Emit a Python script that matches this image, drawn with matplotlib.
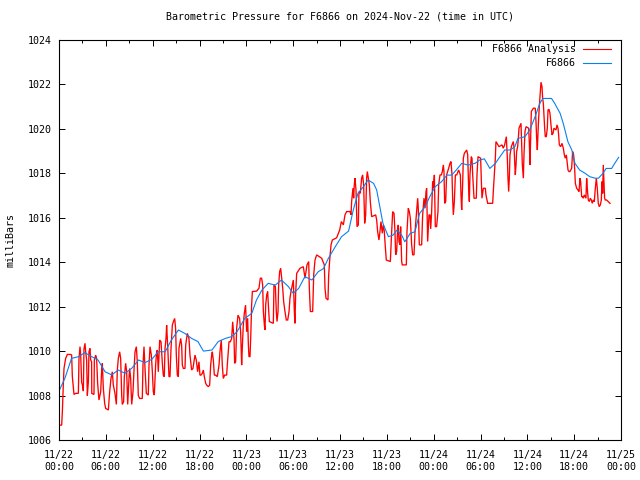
import matplotlib
matplotlib.use("Agg")
import matplotlib.pyplot as plt
from matplotlib.ticker import MultipleLocator, FixedLocator

plt.rcParams['font.family'] = ['DejaVu Sans Mono']
FS = 7.2

title = "Barometric Pressure for F6866 on 2024-Nov-22 (time in UTC)"
ylabel = "milliBars"
series_names = ["F6866 Analysis", "F6866"]

# hours since 2024-11-22 00:00 UTC
x_ticks = [0, 6, 12, 18, 24, 30, 36, 42, 48, 54, 60, 66, 72]
x_tick_labels = ["11/22\n00:00", "11/22\n06:00", "11/22\n12:00", "11/22\n18:00",
                 "11/23\n00:00", "11/23\n06:00", "11/23\n12:00", "11/23\n18:00",
                 "11/24\n00:00", "11/24\n06:00", "11/24\n12:00", "11/24\n18:00",
                 "11/25\n00:00"]

analysis_hours = [
    0.0, 0.34, 0.43, 0.55, 0.64, 0.85, 1.07, 1.5, 1.62, 1.71, 1.92, 2.13, 2.48, 2.56, 2.69, 2.78,
    2.9, 3.0, 3.12, 3.2, 3.33, 3.42, 3.54, 3.63, 3.76, 3.84, 3.97, 4.06, 4.18, 4.2, 4.48, 4.53,
    4.7, 4.82, 4.95, 5.12, 5.34, 5.47, 5.55, 5.68, 5.85, 5.98, 6.32, 6.49, 6.66, 6.83, 6.96, 7.17,
    7.35, 7.47, 7.6, 7.77, 7.9, 8.03, 8.11, 8.28, 8.37, 8.54, 8.67, 8.8, 8.97, 9.05, 9.18, 9.31,
    9.48, 9.61, 9.74, 9.91, 10.03, 10.16, 10.33, 10.67, 10.76, 10.89, 11.02, 11.19, 11.44, 11.53,
    11.66, 11.83, 11.96, 12.08, 12.21, 12.38, 12.51, 12.6, 12.72, 12.9, 13.07, 13.24, 13.36, 13.49,
    13.58, 13.71, 13.79, 13.92, 14.0, 14.09, 14.22, 14.35, 14.52, 14.65, 14.82, 14.94, 15.03, 15.16,
    15.29, 15.37, 15.59, 15.71, 15.8, 15.93, 16.14, 16.23, 16.44, 16.65, 16.78, 16.99, 17.16, 17.42,
    17.59, 17.76, 17.93, 18.06, 18.19, 18.36, 18.49, 18.62, 18.79, 18.92, 19.13, 19.3, 19.43, 19.56,
    19.64, 19.77, 19.9, 20.07, 20.28, 20.5, 20.62, 20.79, 20.92, 21.05, 21.22, 21.48, 21.56, 21.78,
    21.95, 22.12, 22.25, 22.42, 22.5, 22.63, 22.76, 22.93, 23.14, 23.27, 23.4, 23.48, 23.61, 23.74,
    23.9, 24.04, 24.17, 24.26, 24.34, 24.47, 24.56, 24.68, 24.77, 25.32, 25.62, 25.79, 25.96, 26.09,
    26.18, 26.31, 26.39, 26.48, 26.61, 26.73, 26.82, 26.95, 27.46, 27.54, 27.72, 27.84, 27.93, 28.06,
    28.14, 28.27, 28.4, 28.53, 28.66, 28.78, 28.95, 29.12, 29.3, 29.47, 29.59, 29.72, 29.89, 30.02,
    30.15, 30.23, 30.32, 30.45, 30.88, 31.3, 31.52, 31.77, 31.99, 32.07, 32.2, 32.5, 32.63, 32.8,
    33.01, 33.65, 33.99, 34.08, 34.21, 34.46, 34.55, 34.68, 34.85, 35.02, 35.57, 35.96, 36.17, 36.43,
    36.64, 36.85, 37.28, 37.41, 37.49, 37.66, 37.75, 37.83, 37.92, 38.05, 38.18, 38.35, 38.43, 38.6,
    38.77, 38.9, 39.03, 39.16, 39.29, 39.41, 39.5, 39.76, 39.88, 40.06, 40.57, 40.7, 40.82, 40.99,
    41.12, 41.25, 41.42, 41.55, 41.68, 41.76, 41.93, 42.45, 42.62, 42.75, 42.92, 43.04, 43.13, 43.26,
    43.39, 43.47, 43.56, 43.68, 43.77, 43.9, 43.98, 44.5, 44.58, 44.75, 44.88, 45.01, 45.18, 45.31,
    45.48, 45.61, 45.78, 45.95, 46.03, 46.16, 46.46, 46.59, 46.76, 46.89, 47.02, 47.1, 47.23, 47.4,
    47.53, 47.62, 47.74, 47.87, 47.96, 48.09, 48.21, 48.38, 48.55, 48.64, 48.81, 48.98, 49.11, 49.24,
    49.32, 49.41, 49.54, 49.66, 49.92, 50.09, 50.22, 50.35, 50.43, 50.52, 50.65, 50.78, 50.95, 51.2,
    51.42, 51.5, 51.59, 51.71, 51.8, 51.93, 52.23, 52.36, 52.48, 52.57, 52.65, 52.82, 52.91, 53.0,
    53.17, 53.46, 53.55, 53.68, 54.02, 54.11, 54.19, 54.36, 54.62, 54.7, 54.79, 54.92, 55.56, 55.64,
    55.77, 55.9, 55.98, 56.37, 56.75, 56.92, 57.09, 57.31, 57.44, 57.52, 57.61, 57.69, 57.78, 57.95,
    58.2, 58.29, 58.38, 58.46, 58.55, 58.63, 58.76, 58.85, 58.93, 59.19, 59.27, 59.36, 59.49, 59.57,
    59.7, 59.83, 60.17, 60.25, 60.34, 60.42, 60.51, 60.77, 61.02, 61.11, 61.19, 61.28, 61.41, 61.53,
    61.62, 61.75, 61.88, 61.96, 62.05, 62.13, 62.22, 62.3, 62.43, 62.56, 62.65, 62.77, 62.9, 63.03,
    63.16, 63.29, 63.41, 63.67, 63.8, 63.93, 64.01, 64.1, 64.27, 64.44, 64.61, 64.74, 64.87, 65.0,
    65.12, 65.21, 65.34, 65.46, 65.68, 65.8, 65.93, 66.06, 66.15, 66.32, 66.49, 66.62, 66.74, 66.83,
    66.96, 67.09, 67.17, 67.3, 67.51, 67.6, 67.68, 67.81, 67.94, 68.07, 68.2, 68.32, 68.45, 68.58,
    68.71, 68.84, 68.96, 69.09, 69.22, 69.35, 69.48, 69.56, 69.65, 69.73, 69.82, 69.9, 69.99, 70.16,
    70.37, 70.59]

analysis_mb = [
    1006.67, 1006.67, 1007.27, 1008.47, 1009.22, 1009.67, 1009.85, 1009.85, 1009.82, 1008.85, 1008.05, 1008.1, 1008.1, 1009.67, 1010.2, 1009.82,
    1008.6, 1008.47, 1008.2, 1010.1, 1010.35, 1009.97, 1009.6, 1008.0, 1008.62, 1009.97, 1010.12, 1009.6, 1009.52, 1008.1, 1008.05, 1009.6,
    1009.82, 1009.67, 1008.55, 1007.8, 1008.17, 1009.15, 1009.45, 1008.32, 1007.65, 1007.42, 1007.35, 1008.17, 1008.77, 1009.07, 1008.47, 1008.1,
    1007.6, 1009.15, 1009.67, 1009.97, 1009.67, 1008.02, 1007.6, 1007.72, 1008.85, 1009.45, 1009.07, 1007.6, 1008.77, 1009.22, 1008.77, 1007.6,
    1008.17, 1009.15, 1009.97, 1010.2, 1009.52, 1008.0, 1007.87, 1007.87, 1009.37, 1010.2, 1009.22, 1008.1, 1008.02, 1009.37,
    1010.2, 1009.82, 1009.07, 1008.17, 1008.02, 1009.37, 1009.97, 1010.05, 1009.07, 1010.5, 1010.42, 1009.45, 1008.92, 1008.85,
    1010.12, 1010.57, 1011.17, 1010.27, 1009.6, 1008.85, 1008.85, 1010.12, 1011.17, 1011.32, 1011.47, 1011.02, 1009.82, 1008.92,
    1008.85, 1010.12, 1010.57, 1010.27, 1009.37, 1009.22, 1009.22, 1010.27, 1010.8, 1010.57, 1009.82, 1009.15, 1009.22, 1009.82,
    1009.6, 1009.07, 1009.52, 1008.92, 1008.92, 1009.0, 1009.15, 1008.85, 1008.55, 1008.47, 1008.4, 1008.47, 1009.37, 1009.82,
    1009.97, 1009.6, 1008.92, 1008.92, 1008.85, 1009.37, 1009.97, 1010.5, 1009.37, 1008.77, 1008.92, 1008.92, 1009.37, 1010.42,
    1010.42, 1010.57, 1011.32, 1010.57, 1009.45, 1009.52, 1011.02, 1011.62, 1011.47, 1010.87, 1009.37, 1010.12, 1011.17, 1011.7,
    1012.07, 1010.87, 1011.48, 1010.28, 1009.75, 1009.75, 1010.58, 1012.08, 1012.68, 1012.7, 1012.83, 1013.28, 1013.28, 1012.98,
    1011.78, 1011.18, 1010.95, 1012.08, 1012.53, 1012.68, 1012.08, 1011.33, 1011.25, 1012.98, 1012.9, 1011.78, 1011.33, 1011.78,
    1012.98, 1013.58, 1013.73, 1013.28, 1012.83, 1012.23, 1011.78, 1011.4, 1011.4, 1011.78, 1012.38, 1012.68, 1012.98, 1013.2,
    1011.78, 1011.25, 1012.6, 1013.5, 1013.73, 1013.8, 1013.28, 1013.88, 1014.03, 1012.83, 1011.78, 1011.78, 1013.43, 1014.1,
    1014.33, 1014.18, 1013.88, 1012.83, 1012.38, 1012.3, 1013.43, 1014.1, 1014.78, 1015.0, 1015.1, 1015.45, 1015.83, 1015.68,
    1016.13, 1016.28, 1016.28, 1016.13, 1016.73, 1017.33, 1016.88, 1017.48, 1017.78, 1017.25, 1015.6, 1015.68, 1017.18, 1017.1,
    1017.78, 1017.93, 1017.48, 1015.75, 1016.13, 1017.78, 1018.08, 1017.48, 1016.73, 1016.05, 1016.13, 1015.9, 1015.38, 1015.0,
    1015.38, 1015.83, 1015.3, 1015.68, 1015.38, 1014.93, 1014.1, 1014.03, 1015.38, 1016.28, 1016.2, 1015.38, 1014.33, 1014.48,
    1015.53, 1015.68, 1014.93, 1014.78, 1015.6, 1014.03, 1013.88, 1013.88, 1015.38, 1016.43, 1016.28, 1015.98, 1014.78, 1014.33,
    1014.33, 1015.38, 1016.13, 1016.88, 1016.43, 1014.78, 1014.78, 1016.13, 1016.88, 1016.43, 1017.18, 1017.33, 1014.93, 1016.13,
    1016.13, 1015.5, 1016.28, 1017.63, 1017.33, 1017.93, 1015.6, 1015.6, 1016.28, 1017.48, 1017.93, 1017.93, 1018.08, 1018.38,
    1018.08, 1016.65, 1016.73, 1017.93, 1018.23, 1018.45, 1018.53, 1017.93, 1016.88, 1016.13, 1016.73, 1017.93, 1017.93, 1018.15,
    1017.93, 1017.03, 1016.35, 1017.48, 1018.68, 1018.9, 1019.05, 1018.83, 1017.33, 1016.73, 1017.93, 1018.75, 1018.68, 1017.93,
    1016.88, 1016.88, 1017.93, 1018.75, 1018.68, 1017.63, 1016.88, 1017.33, 1017.33, 1017.03, 1016.88, 1016.65, 1016.65, 1017.18,
    1017.93, 1018.68, 1019.43, 1019.2, 1019.28, 1019.13, 1019.28, 1019.65, 1018.68, 1017.78, 1017.18, 1017.78, 1018.83, 1019.2,
    1019.43, 1019.2, 1018.53, 1017.93, 1018.38, 1018.98, 1019.2, 1019.58, 1020.03, 1020.25, 1019.43, 1018.38, 1017.78, 1018.83,
    1019.88, 1020.1, 1020.03, 1019.43, 1018.38, 1019.43, 1020.78, 1020.93, 1020.93, 1020.33, 1019.58, 1019.05, 1020.18, 1021.0,
    1021.45, 1022.1, 1021.9, 1021.38, 1021.15, 1020.63, 1020.03, 1019.65, 1019.65, 1020.03, 1020.85, 1020.88, 1020.7, 1020.18,
    1019.73, 1019.8, 1020.03, 1019.95, 1020.18, 1020.03, 1019.73, 1019.28, 1019.2, 1019.35, 1019.13, 1018.83, 1018.68, 1018.83,
    1018.45, 1018.15, 1018.08, 1018.08, 1018.23, 1018.98, 1018.83, 1018.23, 1017.55, 1017.33, 1017.25, 1017.18, 1017.78, 1017.63,
    1016.95, 1016.95, 1016.88, 1017.03, 1016.88, 1017.78, 1017.33, 1016.8, 1016.73, 1016.88, 1016.8, 1016.65, 1016.8, 1016.73,
    1017.33, 1017.78, 1017.33, 1016.65, 1016.5, 1016.58, 1016.8, 1017.63, 1017.1, 1018.38, 1017.63, 1016.88, 1016.8, 1016.8,
    1016.73, 1016.65]

station_hours = [
    0.0, 0.77, 1.6, 2.5, 3.3, 4.2, 5.0, 5.9, 6.75, 7.6, 8.45, 9.3, 10.2, 11.0, 11.9, 12.7,
    13.6, 14.4, 15.3, 16.1, 17.0, 17.8, 18.5, 19.6, 20.4, 21.3, 22.1, 22.8, 23.8, 24.7, 25.3, 26.0,
    26.8, 27.7, 28.5, 29.4, 30.0, 30.7, 31.5, 32.4, 33.2, 33.9, 34.5, 35.4, 36.2, 37.1, 37.7, 38.3,
    39.0, 39.6, 40.3, 40.7, 41.1, 41.5, 42.2, 42.8, 43.3, 43.9, 44.3, 45.0, 45.6, 46.2, 46.9, 47.5,
    48.2, 49.0, 49.7, 50.3, 50.9, 51.6, 52.4, 53.3, 53.9, 54.5, 55.2, 55.9, 56.5, 57.1, 57.8, 58.4,
    58.8, 59.7, 60.3, 61.0, 61.6, 62.0, 63.1, 63.5, 64.2, 64.6, 65.2, 65.7, 66.1, 66.7, 67.4, 68.0,
    68.7, 69.1, 69.7, 70.1, 70.8, 71.2, 71.7]

station_mb = [
    1008.2, 1008.79, 1009.67, 1009.75, 1009.93, 1009.75, 1009.6, 1009.07, 1008.93, 1009.15, 1009.0, 1009.22, 1009.6, 1009.48, 1009.63, 1009.97,
    1009.97, 1010.5, 1010.95, 1010.8, 1010.57, 1010.43, 1010.0, 1010.05, 1010.43, 1010.57, 1010.65, 1010.87, 1011.47, 1011.7, 1012.3, 1012.75,
    1013.05, 1012.97, 1013.2, 1012.9, 1012.6, 1012.82, 1013.35, 1013.2, 1013.57, 1013.72, 1014.17, 1014.7, 1015.15, 1015.4, 1016.35, 1017.1,
    1017.4, 1017.7, 1017.55, 1017.25, 1016.5, 1015.75, 1015.15, 1015.22, 1015.45, 1015.22, 1014.92, 1015.3, 1015.37, 1016.2, 1016.5, 1016.95,
    1017.4, 1017.62, 1017.92, 1017.92, 1018.15, 1018.45, 1018.37, 1018.45, 1018.6, 1018.65, 1018.22, 1018.45, 1018.75, 1019.05, 1019.05, 1019.2,
    1019.57, 1019.65, 1019.95, 1020.55, 1021.15, 1021.37, 1021.37, 1021.15, 1020.7, 1020.25, 1019.42, 1019.05, 1018.45, 1018.15, 1018.0, 1017.85,
    1017.78, 1017.78, 1018.0, 1018.22, 1018.22, 1018.45, 1018.72]

RED = "#ff0000"
BLUE = "#0a80f0"

fig = plt.figure(figsize=(6.4, 4.8), dpi=100)
ax = fig.add_axes([59/640, 1-440/480, 562/640, 400/480])

ax.plot(analysis_hours, analysis_mb, color=RED, lw=0.95, solid_joinstyle='miter')
ax.plot(station_hours, station_mb, color=BLUE, lw=0.8)

ax.set_xlim(0, 72)
ax.set_ylim(1006, 1024)
ax.xaxis.set_major_locator(FixedLocator(x_ticks))
ax.set_xticklabels(x_tick_labels, fontsize=FS, linespacing=1.25)
ax.xaxis.set_minor_locator(MultipleLocator(3))
ax.yaxis.set_major_locator(MultipleLocator(2))
for lab in ax.get_yticklabels():
    lab.set_fontsize(FS)
ax.tick_params(which='both', direction='in', top=True, right=True, width=0.7, color='black')
ax.tick_params(which='major', length=4.5, pad=5)
ax.tick_params(which='minor', length=2.2)
ax.tick_params(axis='x', which='major', pad=7)
for sp in ax.spines.values():
    sp.set_linewidth(0.8)

ax.set_title(title, fontsize=FS, pad=15)
ax.set_ylabel(ylabel, fontsize=FS, labelpad=9)

# legend (top right, gnuplot style: text then sample line)
leg_rows = [(0.9775, series_names[0], RED), (0.9425, series_names[1], BLUE)]
for yy, name, col in leg_rows:
    ax.text(0.92, yy, name, transform=ax.transAxes, ha='right', va='center', fontsize=FS)
    ax.plot([0.932, 0.982], [yy, yy], transform=ax.transAxes, color=col, lw=0.8)

fig.savefig("out.png", dpi=100)
